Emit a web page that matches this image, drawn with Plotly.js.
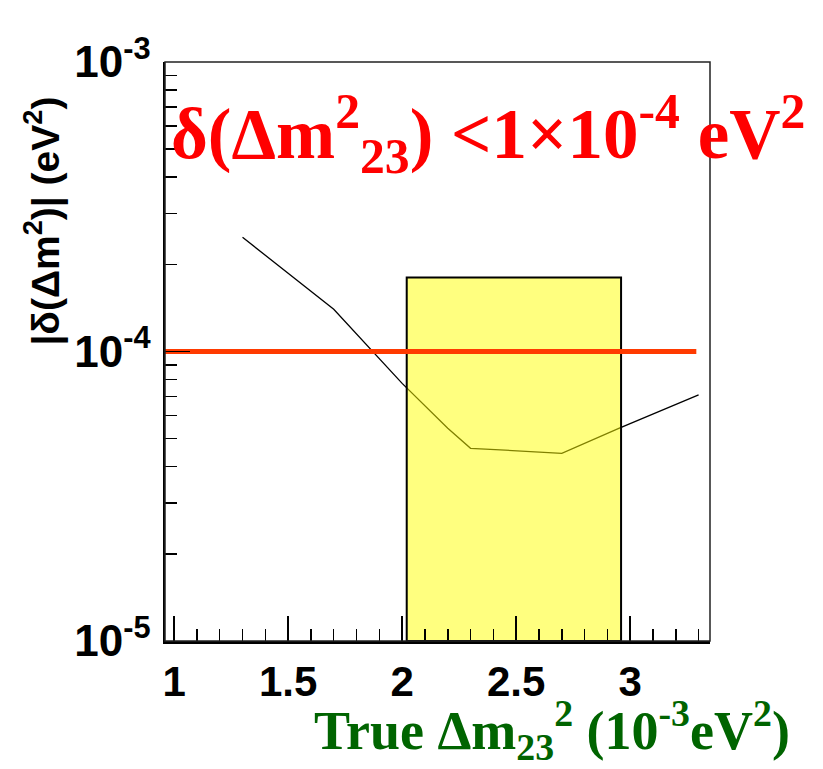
<!DOCTYPE html>
<html>
<head>
<meta charset="utf-8">
<script src="https://cdn.plot.ly/plotly-3.0.1.min.js"></script>
<style>html,body{margin:0;padding:0;background:#fff;}#plot{width:823px;height:769px;}</style>
</head>
<body>
<div id="plot"></div>
<script>
// Sensitivity curve |δ(Δm²)| vs true Δm²23 (10^-3 eV²)
const trueDm2 = [1.3, 1.7, 2.0, 2.2, 2.3, 2.45, 2.5, 2.65, 2.7, 2.95, 3.3];
const deltaDm2 = [2.48e-4, 1.40e-4, 7.76e-5, 5.43e-5, 4.63e-5, 4.56e-5, 4.52e-5, 4.45e-5, 4.45e-5, 5.43e-5, 7.08e-5];

// Allowed region box (x range in 10^-3 eV², y range in eV²)
const boxX = [2.02, 2.96];
const boxY = [1e-5, 1.8e-4];

// Requirement line
const thresholdValue = 1e-4;
const thresholdX = [0.96, 3.29];

// Axis ticks
const yTickVals = [1e-5, 1e-4, 1e-3];
const yTickText = ['10<sup>-5</sup>', '10<sup>-4</sup>', '10<sup>-3</sup>'];

const traces = [
  {
    x: trueDm2, y: deltaDm2, type: 'scatter', mode: 'lines',
    line: {color: '#000000', width: 1.3}, hoverinfo: 'skip', showlegend: false
  },
  {
    x: [boxX[0], boxX[1], boxX[1], boxX[0], boxX[0]],
    y: [boxY[0], boxY[0], boxY[1], boxY[1], boxY[0]],
    type: 'scatter', mode: 'lines', fill: 'toself',
    fillcolor: 'rgba(255,255,0,0.5)',
    line: {color: '#000000', width: 2}, hoverinfo: 'skip', showlegend: false
  },
  {
    x: thresholdX, y: thresholdX.map(() => thresholdValue),
    type: 'scatter', mode: 'lines',
    line: {color: '#ff3a00', width: 5}, hoverinfo: 'skip', showlegend: false
  }
];

const layout = {
  width: 823, height: 769,
  margin: {l: 165, r: 113, t: 62, b: 128},
  paper_bgcolor: '#ffffff', plot_bgcolor: '#ffffff',
  showlegend: false,
  xaxis: {
    range: [0.96, 3.35], tick0: 1, dtick: 0.5,
    ticks: 'inside', ticklen: 25, tickwidth: 1.5, tickcolor: '#000',
    minor: {dtick: 0.1, ticks: 'inside', ticklen: 12, tickwidth: 1.5, tickcolor: '#000', showgrid: false},
    showgrid: false, zeroline: false,
    showline: true, linecolor: '#000', linewidth: 2.5,
    ticklabelstandoff: 2,
    tickfont: {family: 'Liberation Sans, Arial, sans-serif', size: 42, color: '#000', weight: 'bold'}
  },
  yaxis: {
    type: 'log', range: [-5, -3],
    tickvals: yTickVals, ticktext: yTickText,
    ticks: 'inside', ticklen: 25, tickwidth: 1.5, tickcolor: '#000',
    minor: {dtick: 'D1', ticks: 'inside', ticklen: 12, tickwidth: 1.5, tickcolor: '#000', showgrid: false},
    showgrid: false, zeroline: false,
    showline: true, linecolor: '#000', linewidth: 2.5,
    ticklabelstandoff: 3,
    tickfont: {family: 'Liberation Sans, Arial, sans-serif', size: 44, color: '#000', weight: 'bold'}
  },
  shapes: [
    {type: 'rect', xref: 'paper', yref: 'paper', x0: 0, x1: 1, y0: 0, y1: 1,
     line: {color: '#222', width: 1.5}, fillcolor: 'rgba(0,0,0,0)', layer: 'above'}
  ],
  annotations: [
    {
      text: 'δ(Δm<sup>2</sup><sub>23</sub>) &lt;1×10<sup>-4</sup> eV<sup>2</sup>',
      xref: 'paper', yref: 'paper', x: 0.008, y: 0.876,
      xanchor: 'left', yanchor: 'middle', showarrow: false,
      font: {family: 'Liberation Serif, Times New Roman, serif', size: 71, color: '#ff0000', weight: 'bold'}
    },
    {
      text: 'True Δm<sub>23</sub><sup>2</sup> (10<sup>-3</sup>eV<sup>2</sup>)',
      xref: 'paper', yref: 'paper', x: 1.15, y: -0.153,
      xanchor: 'right', yanchor: 'middle', showarrow: false,
      font: {family: 'Liberation Serif, Times New Roman, serif', size: 54, color: '#006400', weight: 'bold'}
    },
    {
      text: '|δ(Δm<sup>2</sup>)| (eV<sup>2</sup>)',
      xref: 'paper', yref: 'paper', x: -0.225, y: 0.725,
      xanchor: 'center', yanchor: 'middle', textangle: -90, showarrow: false,
      font: {family: 'Liberation Sans, Arial, sans-serif', size: 39, color: '#000', weight: 'bold'}
    }
  ]
};

Plotly.newPlot('plot', traces, layout, {displayModeBar: false, staticPlot: true});
</script>
</body>
</html>
